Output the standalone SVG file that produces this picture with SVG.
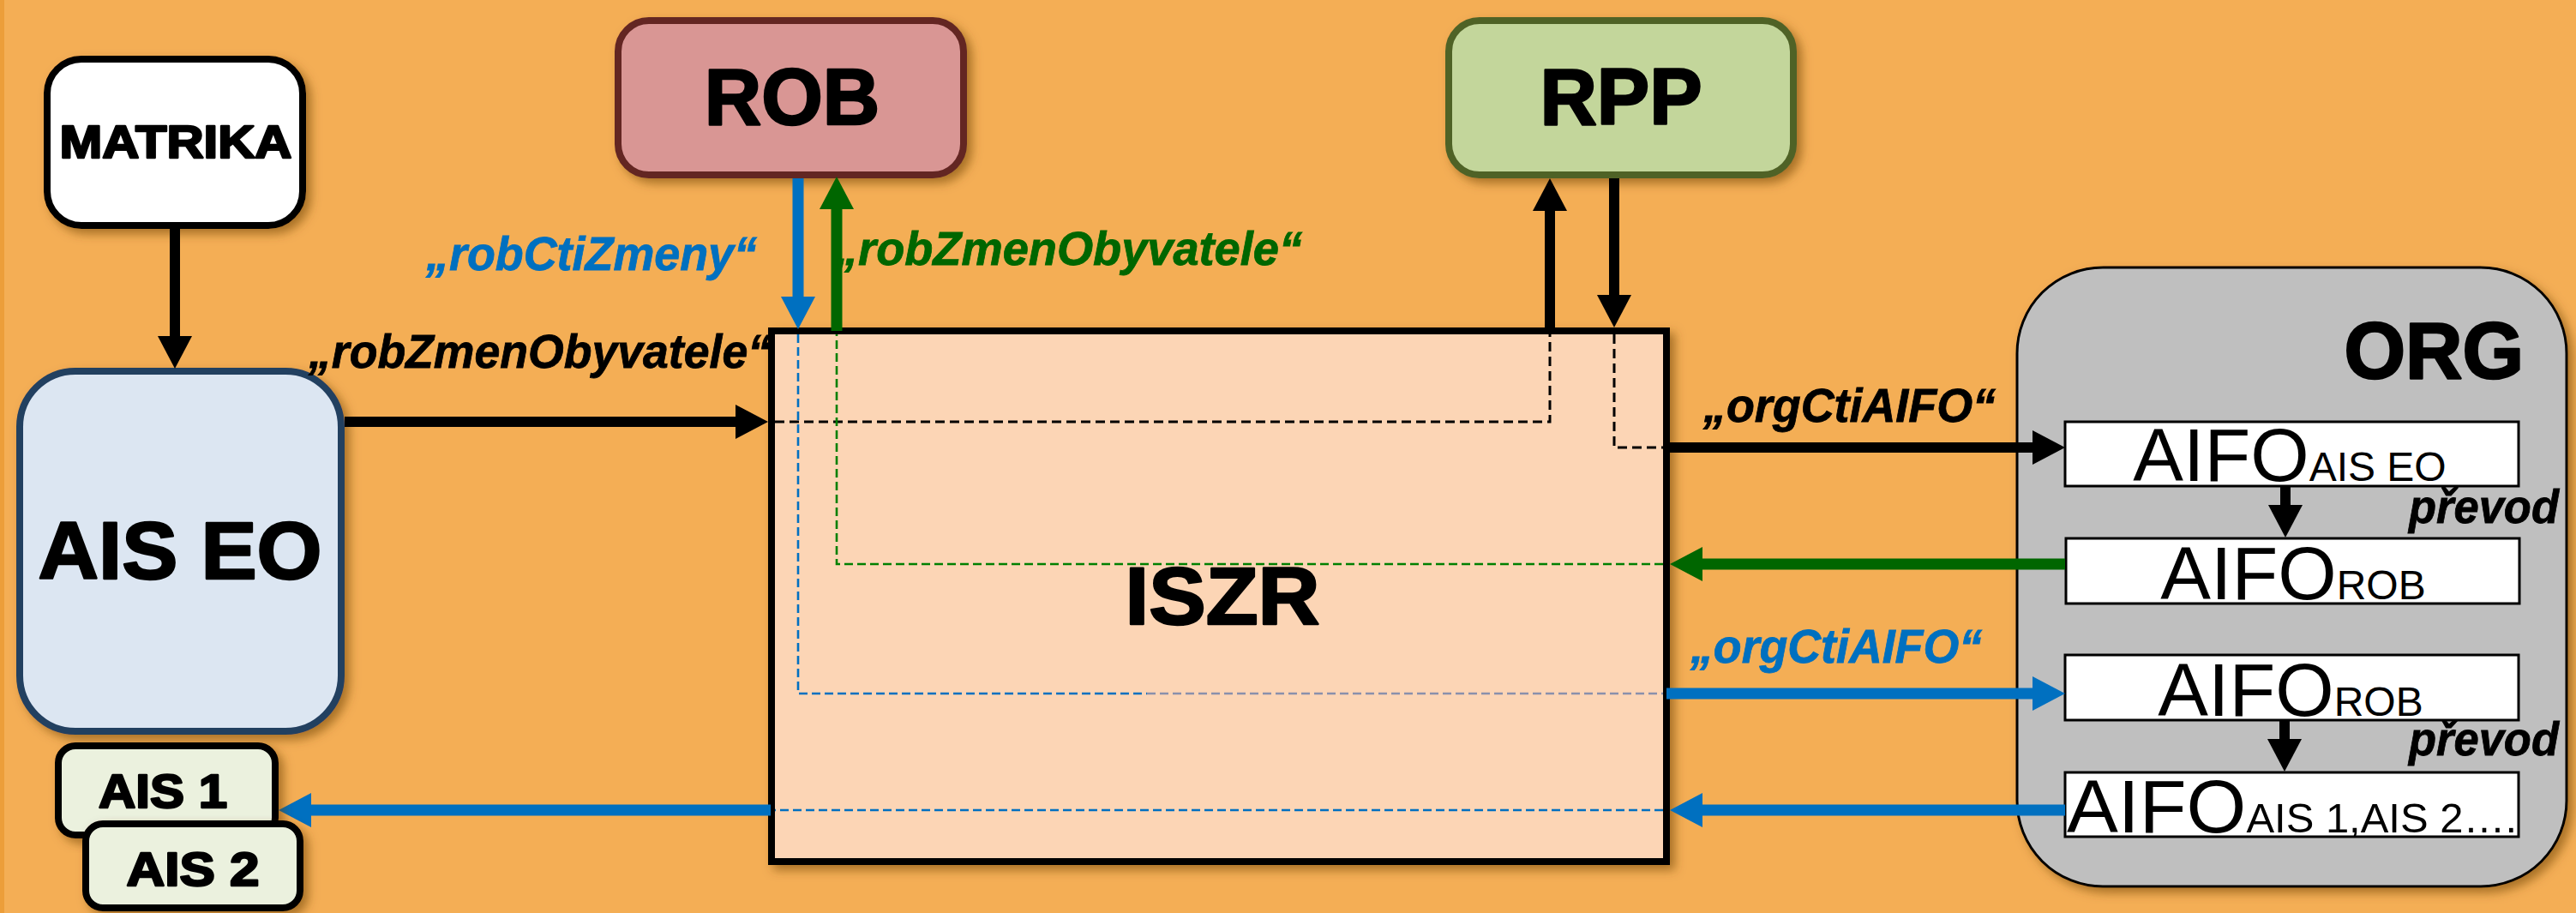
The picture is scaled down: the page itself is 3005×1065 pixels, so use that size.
<svg xmlns="http://www.w3.org/2000/svg" width="3005" height="1065" viewBox="0 0 3005 1065">
<style>
.big{font-family:"Liberation Sans",Arial,sans-serif;font-weight:bold;fill:#000;stroke:#000;stroke-width:2.5;stroke-linejoin:round}
.lbl{font-family:"Liberation Sans",Arial,sans-serif;font-weight:bold;font-style:italic;font-size:55px;stroke-width:0.8}
.aifo{font-family:"Liberation Sans",Arial,sans-serif;font-size:88px;fill:#000}
.sub{font-size:48px}
.blk{stroke:#000;stroke-width:12;fill:none}
.blu{stroke:#0070C0;stroke-width:13;fill:none}
.grn{stroke:#006600;stroke-width:13;fill:none}
.dk{stroke:#000;stroke-width:3;stroke-dasharray:11 6;fill:none}
.db{stroke:#0070C0;stroke-width:2.6;stroke-dasharray:10 5;fill:none}
.dg{stroke:#008000;stroke-width:2.6;stroke-dasharray:10 5;fill:none}
.box{fill:#fff;stroke:#000;stroke-width:3}
</style>
<defs>
<filter id="sh" x="-10%" y="-10%" width="130%" height="130%">
<feDropShadow dx="6" dy="6" stdDeviation="6" flood-color="#6b3d05" flood-opacity="0.55"/>
</filter>
<marker id="hk" markerUnits="userSpaceOnUse" markerWidth="40" markerHeight="40" refX="0" refY="20" orient="auto" viewBox="0 0 40 40"><path d="M0,0 L38,20 L0,40 z" fill="#000"/></marker>
<marker id="hb" markerUnits="userSpaceOnUse" markerWidth="40" markerHeight="40" refX="0" refY="20" orient="auto" viewBox="0 0 40 40"><path d="M0,0 L38,20 L0,40 z" fill="#0070C0"/></marker>
<marker id="hg" markerUnits="userSpaceOnUse" markerWidth="40" markerHeight="40" refX="0" refY="20" orient="auto" viewBox="0 0 40 40"><path d="M0,0 L38,20 L0,40 z" fill="#006600"/></marker>
</defs>
<rect width="3005" height="1065" fill="#F4AE55"/>
<rect width="5" height="1065" fill="#EC9E3A"/>

<g id="iszr">
<rect x="900" y="386" width="1044" height="619" fill="#FCD5B5" stroke="#000" stroke-width="8" filter="url(#sh)"/>
<text class="big" x="1426" y="728" font-size="94" text-anchor="middle" textLength="227" lengthAdjust="spacingAndGlyphs">ISZR</text>
</g>

<g id="matrika">
<rect x="55" y="69" width="298" height="194" rx="40" fill="#fff" stroke="#000" stroke-width="8" filter="url(#sh)"/>
<text class="big" x="205" y="184" font-size="54" text-anchor="middle" textLength="271" lengthAdjust="spacingAndGlyphs">MATRIKA</text>
</g>

<g id="rob">
<rect x="721" y="24" width="403" height="180" rx="36" fill="#D99694" stroke="#632523" stroke-width="8" filter="url(#sh)"/>
<text class="big" x="924" y="145" font-size="92" text-anchor="middle">ROB</text>
</g>

<g id="rpp">
<rect x="1690" y="24" width="402" height="180" rx="36" fill="#C3D69B" stroke="#4F6228" stroke-width="8" filter="url(#sh)"/>
<text class="big" x="1891" y="145" font-size="92" text-anchor="middle">RPP</text>
</g>

<g id="aiseo">
<rect x="23" y="433" width="375" height="420" rx="65" fill="#DCE6F2" stroke="#243F60" stroke-width="8" filter="url(#sh)"/>
<text class="big" x="210" y="675" font-size="94" text-anchor="middle" textLength="331" lengthAdjust="spacingAndGlyphs">AIS EO</text>
</g>

<g id="org">
<rect x="2353" y="312" width="641" height="722" rx="100" fill="#BFBFBF" stroke="#000" stroke-width="3" filter="url(#sh)"/>
<text class="big" x="2944" y="441" font-size="92" text-anchor="end">ORG</text>
<text class="lbl" x="2810" y="610" fill="#000" stroke="#000" textLength="175" lengthAdjust="spacingAndGlyphs">převod</text>
<text class="lbl" x="2810" y="881" fill="#000" stroke="#000" textLength="175" lengthAdjust="spacingAndGlyphs">převod</text>
</g>

<g id="aifo-aiseo">
<rect class="box" x="2409" y="492" width="529" height="75"/>
<text class="aifo" x="2671" y="561" text-anchor="middle">AIFO<tspan class="sub">AIS EO</tspan></text>
</g>
<g id="aifo-rob1">
<rect class="box" x="2410" y="628" width="529" height="76"/>
<text class="aifo" x="2675" y="699" text-anchor="middle">AIFO<tspan class="sub">ROB</tspan></text>
</g>
<g id="aifo-rob2">
<rect class="box" x="2409" y="764" width="529" height="76"/>
<text class="aifo" x="2672" y="835" text-anchor="middle">AIFO<tspan class="sub">ROB</tspan></text>
</g>
<g id="aifo-ais">
<rect class="box" x="2409" y="901" width="529" height="75"/>
<text class="aifo" x="2411" y="971" textLength="525" lengthAdjust="spacingAndGlyphs">AIFO<tspan class="sub">AIS 1,AIS 2….</tspan></text>
</g>

<g id="connectors">
<path class="blk" d="M204,267 V392" marker-end="url(#hk)"/>
<path class="blk" d="M402,492 H858" marker-end="url(#hk)"/>
<path class="dk" d="M904,492 H1808 V390"/>
<path class="blk" d="M1808,382 V246" marker-end="url(#hk)"/>
<path class="blk" d="M1883,208 V344" marker-end="url(#hk)"/>
<path class="dk" d="M1883,390 V522 H1940"/>
<path class="blk" d="M1948,522 H2371" marker-end="url(#hk)"/>
<path class="blu" d="M931,208 V346" marker-end="url(#hb)"/>
<path class="db" d="M931,390 V809 H1338"/>
<path class="db" d="M1338,809 H1940" style="stroke:#8A90AC"/>
<path class="blu" d="M1944,809 H2371" marker-end="url(#hb)"/>
<path class="grn" d="M2409,658 H1986" marker-end="url(#hg)"/>
<path class="dg" d="M1940,658 H976 V390"/>
<path class="grn" d="M976,386 V244" marker-end="url(#hg)"/>
<path class="blu" d="M2409,945 H1986" marker-end="url(#hb)"/>
<path class="db" d="M1940,945 H904"/>
<path class="blu" d="M899,945 H363" marker-end="url(#hb)"/>
<path class="blk" d="M2666,567 V589" marker-end="url(#hk)"/>
<path class="blk" d="M2665,840 V862" marker-end="url(#hk)"/>
<text class="lbl" x="360" y="429" fill="#000" stroke="#000" textLength="539" lengthAdjust="spacingAndGlyphs">„robZmenObyvatele“</text>
<text class="lbl" x="497" y="315" fill="#0070C0" stroke="#0070C0" textLength="386" lengthAdjust="spacingAndGlyphs">„robCtiZmeny“</text>
<text class="lbl" x="974" y="309" fill="#006600" stroke="#006600" textLength="545" lengthAdjust="spacingAndGlyphs">„robZmenObyvatele“</text>
<text class="lbl" x="1987" y="492" fill="#000" stroke="#000" textLength="341" lengthAdjust="spacingAndGlyphs">„orgCtiAIFO“</text>
<text class="lbl" x="1972" y="773" fill="#0070C0" stroke="#0070C0" textLength="340" lengthAdjust="spacingAndGlyphs">„orgCtiAIFO“</text>
</g>

<g id="ais1">
<rect x="68" y="870" width="253" height="104" rx="20" fill="#EBF1DE" stroke="#000" stroke-width="8" filter="url(#sh)"/>
<text class="big" x="190" y="942" font-size="56" text-anchor="middle" textLength="150" lengthAdjust="spacingAndGlyphs">AIS 1</text>
</g>
<g id="ais2">
<rect x="100" y="961" width="250" height="98" rx="20" fill="#EBF1DE" stroke="#000" stroke-width="8" filter="url(#sh)"/>
<text class="big" x="225" y="1033" font-size="56" text-anchor="middle" textLength="155" lengthAdjust="spacingAndGlyphs">AIS 2</text>
</g>
</svg>
